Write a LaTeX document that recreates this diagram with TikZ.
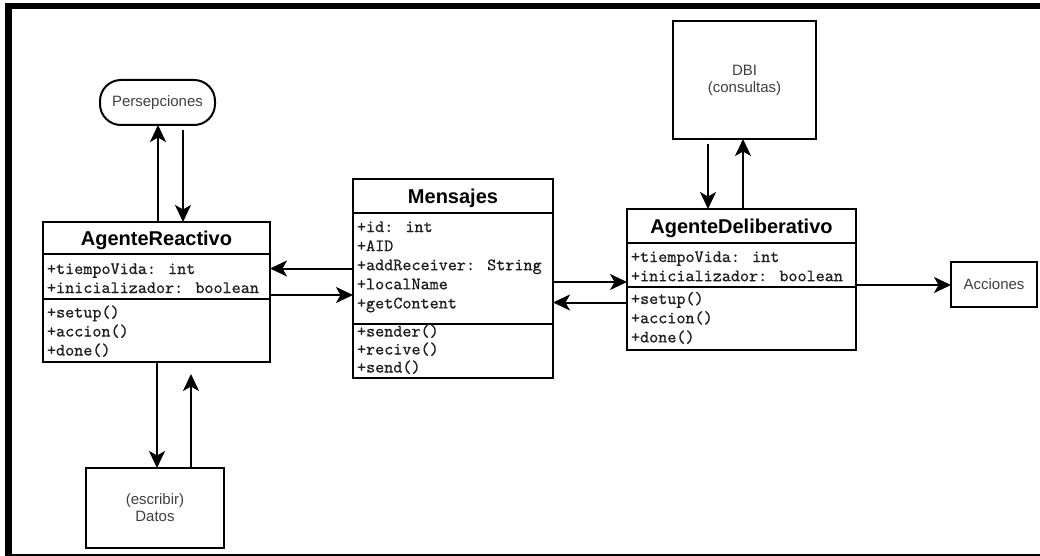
\documentclass[tikz,border=0pt]{standalone}
\usepackage{fontspec}
\setmainfont{Liberation Sans}
\newfontfamily\codefont{lmmono10-regular.otf}[FakeBold=0.6]
\usetikzlibrary{arrows.meta,calc}

% one member row per line of a compartment
\newcommand\memberlist[5]{%
  \foreach \txt [count=\k from 0] in {#5} {%
    \node[member, anchor=base west] (#1-\k) at ({#2}, {#3+#4*\k}) {\txt};
  }%
}

\begin{document}
\begin{tikzpicture}[
  x=1pt, y=-1pt,
  cell/.style={draw, line width=2pt, anchor=north west, inner sep=0pt, outer sep=0pt},
  title/.style={cell, font=\bfseries\fontsize{20}{24}\selectfont, text height=14pt, text depth=0pt},
  member/.style={inner sep=0pt, outer sep=0pt, text=black!88, font=\codefont\fontsize{17.3}{19}\selectfont},
  plain/.style={draw, line width=2pt, inner sep=0pt, outer sep=0pt, align=center,
    text=black!75, font=\fontsize{15}{17}\selectfont},
  arr/.style={line width=2pt, -{Stealth[length=17pt, width=16pt, inset=4.5pt]}}
]
\useasboundingbox (0,0) rectangle (1040,556);
\fill[white] (0,0) rectangle (1040,556);

% frame
\begin{scope}
  \clip (0,0) rectangle (1040,556);
  \draw[line width=6.5pt] (8.5,6) rectangle (1100,557);
\end{scope}

% class AgenteReactivo
\node[title, minimum width=227pt, minimum height=32pt] (reac-t) at (43,222) {AgenteReactivo};
\node[cell, minimum width=227pt, minimum height=45pt] (reac-a) at (43,254) {};
\node[cell, minimum width=227pt, minimum height=63pt] (reac-m) at (43,299) {};
\memberlist{reac-av}{47}{274}{19}{+tiempoVida: int, +inicializador: boolean}
\memberlist{reac-mv}{47}{317.5}{19}{+setup(), +accion(), +done()}

% class Mensajes
\node[title, minimum width=200pt, minimum height=34pt] (mens-t) at (353,179) {Mensajes};
\node[cell, minimum width=200pt, minimum height=111pt] (mens-a) at (353,213) {};
\node[cell, minimum width=200pt, minimum height=54pt] (mens-m) at (353,324) {};
\memberlist{mens-av}{357}{232}{19.1}{+id: int, +AID, +addReceiver: String, +localName, +getContent}
\memberlist{mens-mv}{357}{336.5}{18}{+sender(), +recive(), +send()}

% class AgenteDeliberativo
\node[title, minimum width=229pt, minimum height=34pt] (delib-t) at (627,209) {AgenteDeliberativo};
\node[cell, minimum width=229pt, minimum height=44pt] (delib-a) at (627,243) {};
\node[cell, minimum width=229pt, minimum height=63pt] (delib-m) at (627,287) {};
\memberlist{delib-av}{631}{262}{19.2}{+tiempoVida: int, +inicializador: boolean}
\memberlist{delib-mv}{631}{304}{19.2}{+setup(), +accion(), +done()}

% surrounding elements
\node[plain, rounded corners=21pt, minimum width=115pt, minimum height=45pt] (pers) at (157.5,102.5) {Persepciones};
\node[plain, minimum width=143pt, minimum height=118pt] (dbi) at (744.5,80) {DBI\\(consultas)};
\node[plain, minimum width=138pt, minimum height=80pt] (datos) at (155,508) {(escribir)\\Datos};
\node[plain, minimum width=86pt, minimum height=45pt] (acc) at (994,284.5) {Acciones};

% AgenteReactivo <-> Mensajes
\draw[arr] (mens-a.west) -- (mens-a.west -| reac-a.east);
\coordinate (rm) at ($(reac-a.east)+(0,18.5)$);
\draw[arr] (rm) -- (rm -| mens-a.west);

% Mensajes <-> AgenteDeliberativo
\coordinate (md) at ($(mens-a.east)+(0,13.5)$);
\draw[arr] (md) -- (md -| delib-a.west);
\coordinate (dm) at ($(mens-a.east)+(0,34)$);
\draw[arr] (dm -| delib-a.west) -- (dm);

% AgenteReactivo <-> Persepciones
\coordinate (pu) at ($(pers.south)+(0.5,0)$);
\draw[arr] (pu |- reac-t.north) -- (pu);
\coordinate (pd) at ($(pers.south)+(25.5,5)$);
\draw[arr] (pd) -- (pd |- reac-t.north);

% AgenteReactivo <-> Datos
\coordinate (dd) at ($(datos.north)+(2,0)$);
\draw[arr] (dd |- reac-m.south) -- (dd);
\coordinate (du) at ($(datos.north)+(36,0)$);
\draw[arr, shorten >=12pt] (du) -- (du |- reac-m.south);

% AgenteDeliberativo <-> DBI
\coordinate (bd) at ($(dbi.south)+(-36.5,5)$);
\draw[arr] (bd) -- (bd |- delib-t.north);
\coordinate (bu) at ($(dbi.south)+(-1.5,0)$);
\draw[arr] (bu |- delib-t.north) -- (bu);

% AgenteDeliberativo -> Acciones
\coordinate (ac) at ($(acc.west)+(0,0.5)$);
\draw[arr] (ac -| delib-a.east) -- (ac);
\end{tikzpicture}
\end{document}
